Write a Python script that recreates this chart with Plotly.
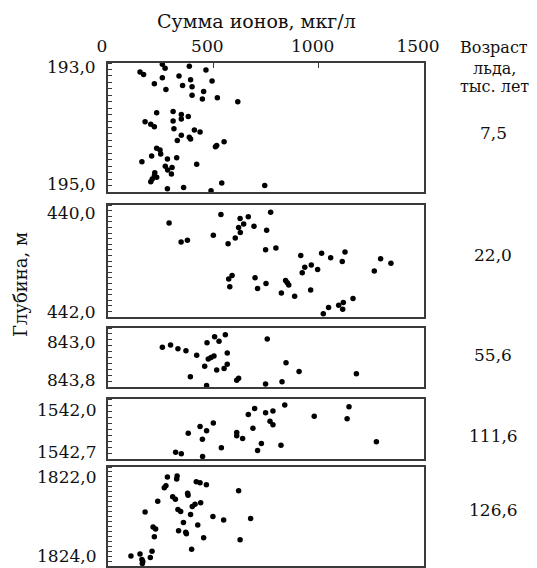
import plotly.graph_objects as go

# ---------------- data ----------------
ion_p1 = [258, 271, 386, 465, 152, 169, 258, 337, 392, 494, 220, 354, 399, 275, 454, 399, 519, 448, 616,
          231, 309, 348, 381, 348, 309, 176, 203, 220, 313, 410, 437, 348, 386, 392, 329, 551, 516, 510,
          231, 247, 250, 207, 161, 282, 326, 421, 272, 304, 283, 222, 301, 220, 231, 210, 203, 540, 744,
          282, 359, 489]
depth_p1 = [193.02, 193.08, 193.05, 193.11, 193.14, 193.18, 193.23, 193.20, 193.26, 193.28, 193.32, 193.35,
            193.37, 193.41, 193.44, 193.50, 193.54, 193.56, 193.60, 193.77, 193.75, 193.80, 193.83, 193.87,
            193.90, 193.91, 193.95, 193.99, 194.02, 194.04, 194.07, 194.12, 194.15, 194.18, 194.20, 194.22,
            194.28, 194.30, 194.32, 194.35, 194.41, 194.44, 194.53, 194.49, 194.47, 194.57, 194.60, 194.62,
            194.66, 194.70, 194.72, 194.75, 194.77, 194.80, 194.84, 194.86, 194.90, 194.95, 194.93, 194.98]

ion_p2 = [290, 536, 627, 666, 772, 644, 620, 628, 693, 500, 604, 753, 347, 377, 570, 748, 797, 589, 573,
          698, 578, 750, 710, 915, 1014, 1057, 1125, 1112, 934, 965, 922, 995, 1294, 1343, 1264, 843, 851,
          858, 823, 962, 886, 1163, 1022, 1047, 1095, 1117, 1114]
depth_p2 = [440.32, 440.17, 440.24, 440.21, 440.13, 440.34, 440.40, 440.49, 440.38, 440.54, 440.59, 440.45,
            440.66, 440.63, 440.69, 440.80, 440.77, 441.26, 441.32, 441.30, 441.46, 441.40, 441.49, 440.90,
            440.86, 440.94, 440.84, 441.01, 441.11, 441.07, 441.21, 441.15, 440.96, 441.04, 441.18, 441.35,
            441.39, 441.43, 441.57, 441.52, 441.63, 441.67, 441.94, 441.83, 441.79, 441.74, 441.86]

ion_p3 = [258, 297, 332, 370, 421, 470, 506, 527, 557, 566, 476, 489, 503, 459, 566, 551, 516, 391, 611,
          620, 468, 748, 756, 845, 907, 1179, 826]
depth_p3 = [843.26, 843.23, 843.28, 843.31, 843.37, 843.20, 843.12, 843.18, 843.09, 843.34, 843.42, 843.40,
            843.38, 843.52, 843.49, 843.55, 843.57, 843.66, 843.71, 843.68, 843.78, 843.76, 843.15, 843.47,
            843.59, 843.62, 843.73]

ion_p4 = [321, 348, 381, 437, 468, 448, 449, 500, 538, 611, 611, 639, 666, 688, 696, 748, 783, 769, 783,
          728, 710, 839, 979, 1144, 1135, 821, 1274]
depth_p4 = [1542.62, 1542.64, 1542.40, 1542.32, 1542.37, 1542.47, 1542.67, 1542.28, 1542.57, 1542.39,
            1542.43, 1542.46, 1542.18, 1542.34, 1542.11, 1542.16, 1542.14, 1542.26, 1542.30, 1542.52,
            1542.60, 1542.07, 1542.20, 1542.09, 1542.23, 1542.54, 1542.50]

ion_p5 = [282, 328, 326, 419, 437, 467, 267, 275, 620, 378, 380, 307, 320, 236, 440, 413, 400, 332, 345,
          176, 392, 498, 549, 677, 358, 426, 214, 226, 220, 335, 369, 372, 454, 627, 397, 209, 152, 109,
          201, 161, 165, 163]
depth_p5 = [1822.20, 1822.18, 1822.24, 1822.30, 1822.32, 1822.36, 1822.42, 1822.38, 1822.48, 1822.53,
            1822.57, 1822.60, 1822.65, 1822.69, 1822.72, 1822.75, 1822.80, 1822.86, 1822.90, 1822.91,
            1822.96, 1823.00, 1823.07, 1823.04, 1823.12, 1823.17, 1823.21, 1823.25, 1823.41, 1823.29,
            1823.32, 1823.35, 1823.43, 1823.47, 1823.66, 1823.70, 1823.76, 1823.80, 1823.83, 1823.87,
            1823.91, 1823.95]

panel_top = [193.0, 440.0, 843.0, 1542.0, 1822.0]
panel_bottom = [195.0, 442.0, 843.8, 1542.7, 1824.0]
top_labels = ["193,0", "440,0", "843,0", "1542,0", "1822,0"]
bottom_labels = ["195,0", "442,0", "843,8", "1542,7", "1824,0"]
ages = ["7,5", "22,0", "55,6", "111,6", "126,6"]
x_tickvals = [0, 500, 1000, 1500]
x_ticktext = ["0", "500", "1000", "1500"]

x_title = "Сумма ионов, мкг/л"
y_title = "Глубина, м"
age_title = ["Возраст", "льда,", "тыс. лет"]

# ---------------- layout geometry (pixels) ----------------
W, H = 537, 568
L, R, T, B = 108, 113, 63, 2
PW, PH = W - L - R, H - T - B
rows_px = [(63, 192), (205, 317), (328, 387), (399, 459), (467, 566)]
minor_dt = [0.1, 0.1, 0.08, 0.07, 0.1]
top_shift = [-4, -8, -14, -11, -10]
bot_shift = [8, 5, 7, 7, 10]
age_y_px = [133, 255, 355, 436, 510]

def px2x(px):
    return (px - L) / PW

def py2y(py):
    return (H - B - py) / PH

FONT = "DejaVu Serif"
INK = "#111111"
LINE = "#3a3a3a"

ions = [ion_p1, ion_p2, ion_p3, ion_p4, ion_p5]
depths = [depth_p1, depth_p2, depth_p3, depth_p4, depth_p5]

fig = go.Figure()
annotations = []
for i in range(5):
    k = "" if i == 0 else str(i + 1)
    fig.add_trace(go.Scatter(
        x=ions[i], y=depths[i], mode="markers",
        marker=dict(color="black", size=5.5),
        xaxis="x" + k, yaxis="y" + k, showlegend=False, cliponaxis=False,
    ))
    r0, r1 = rows_px[i]
    xa = dict(domain=[0, 1], anchor="y" + k, range=[0, 1500],
              showline=True, mirror=True, linecolor=LINE, linewidth=2,
              showgrid=False, zeroline=False, fixedrange=True)
    if i == 0:
        xa.update(side="top", tickmode="array", tickvals=x_tickvals, ticktext=x_ticktext,
                  ticks="inside", ticklen=5, tickcolor=LINE, tickwidth=1,
                  tickfont=dict(family=FONT, size=17, color=INK), ticklabelshift=-6,
                  ticklabelstandoff=2)
    else:
        xa.update(showticklabels=False, ticks="")
    ya = dict(domain=[py2y(r1), py2y(r0)], anchor="x" + k,
              range=[panel_bottom[i], panel_top[i]],
              showline=True, mirror=True, linecolor=LINE, linewidth=2,
              showgrid=False, zeroline=False, fixedrange=True,
              tickmode="array", tickvals=[], showticklabels=False, ticks="",
              minor=dict(ticks="inside", ticklen=4, tickcolor=LINE, tickwidth=1,
                         tickmode="linear", tick0=panel_top[i], dtick=minor_dt[i], showgrid=False))
    fig.layout["xaxis" + k] = xa
    fig.layout["yaxis" + k] = ya

    annotations.append(dict(text=top_labels[i], xref="paper", x=0, xanchor="right", xshift=-10,
                            yref="y%s domain" % k, y=1, yanchor="middle", yshift=top_shift[i],
                            showarrow=False, font=dict(family=FONT, size=17, color=INK)))
    annotations.append(dict(text=bottom_labels[i], xref="paper", x=0, xanchor="right", xshift=-10,
                            yref="y%s domain" % k, y=0, yanchor="middle", yshift=bot_shift[i],
                            showarrow=False, font=dict(family=FONT, size=17, color=INK)))
    annotations.append(dict(text=ages[i], xref="paper", x=px2x(493), xanchor="center",
                            yref="paper", y=py2y(age_y_px[i]), yanchor="middle",
                            showarrow=False, font=dict(family=FONT, size=17, color=INK)))

annotations.append(dict(text=x_title, xref="paper", x=px2x(256), xanchor="center",
                        yref="paper", y=py2y(21), yanchor="middle", showarrow=False,
                        font=dict(family=FONT, size=19, color=INK)))
annotations.append(dict(text=y_title, xref="paper", x=px2x(20), xanchor="center",
                        yref="paper", y=py2y(285), yanchor="middle", textangle=-90, showarrow=False,
                        font=dict(family=FONT, size=18, color=INK)))
for txt, yy in zip(age_title, [48, 68, 86]):
    annotations.append(dict(text=txt, xref="paper", x=px2x(494), xanchor="center",
                            yref="paper", y=py2y(yy), yanchor="middle", showarrow=False,
                            font=dict(family=FONT, size=16, color=INK)))

fig.update_layout(
    width=W, height=H,
    margin=dict(l=L, r=R, t=T, b=B, pad=0),
    paper_bgcolor="white", plot_bgcolor="white",
    annotations=annotations,
    showlegend=False,
)

fig.write_html("out.html", config={"displayModeBar": False},
               post_script="document.body.style.margin='0';document.body.style.overflow='hidden';")
